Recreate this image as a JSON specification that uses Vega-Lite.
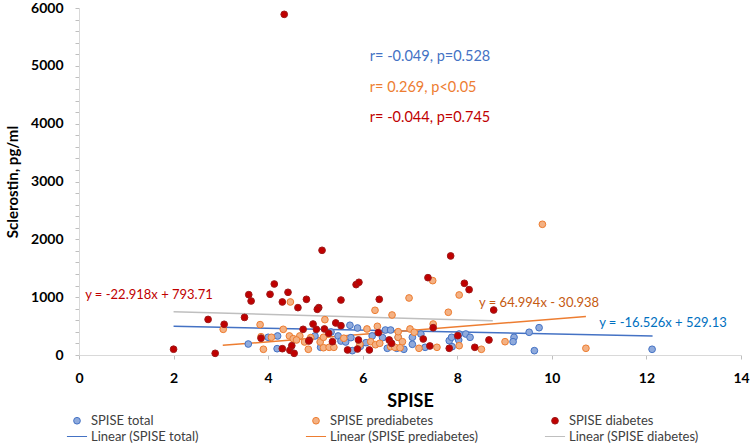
{
  "$schema": "https://vega.github.io/schema/vega-lite/v6.json",
  "width": 662,
  "height": 347,
  "autosize": {"type": "none"},
  "padding": {"left": 79, "top": 8, "right": 9, "bottom": 89},
  "background": "white",
  "config": {
    "font": "Lato",
    "view": {"stroke": null},
    "axis": {"grid": false, "domainColor": "#d9d9d9", "tickColor": "#bfbfbf", "tickSize": 4, "labelFont": "Lato", "labelFontWeight": "bold", "labelColor": "#000000", "labelFlush": false, "labelOverlap": false, "titleFont": "Lato", "titleFontWeight": "bold", "titleColor": "#000000"}
  },
  "layer": [
    {
      "data": {"values": [
        {"spise": 2.0, "sclerostin": 496.08, "series": "Linear (SPISE total)"},
        {"spise": 12.13, "sclerostin": 328.67, "series": "Linear (SPISE total)"},
        {"spise": 3.04, "sclerostin": 166.64, "series": "Linear (SPISE prediabetes)"},
        {"spise": 10.72, "sclerostin": 665.8, "series": "Linear (SPISE prediabetes)"},
        {"spise": 2.0, "sclerostin": 747.87, "series": "Linear (SPISE diabetes)"},
        {"spise": 8.75, "sclerostin": 593.18, "series": "Linear (SPISE diabetes)"}
      ]},
      "mark": {"type": "line", "strokeWidth": 1.5},
      "encoding": {
        "x": {"field": "spise", "type": "quantitative", "scale": {"domain": [0, 14], "nice": false, "zero": false},
          "axis": {"values": [0,2,4,6,8,10,12,14], "tickCount": 200, "labelFontSize": 14,
            "format": "d", "labelOverlap": false, "labelBound": false, "labelPadding": 12, "title": "SPISE", "titleFontSize": 18, "titlePadding": 7}},
        "y": {"field": "sclerostin", "type": "quantitative", "scale": {"domain": [0, 6000], "nice": false},
          "axis": {"values": [0,200,400,600,800,1000,1200,1400,1600,1800,2000,2200,2400,2600,2800,3000,3200,3400,3600,3800,4000,4200,4400,4600,4800,5000,5200,5400,5600,5800,6000],
            "tickCount": 200,
            "labelExpr": "datum.value % 1000 === 0 ? datum.label : ''",
            "labelFontSize": {"condition": {"test": "datum.value % 1000 !== 0", "value": 0}, "value": 14},
            "format": "d", "labelOverlap": false, "labelBound": false, "labelPadding": 12, "title": "Sclerostin, pg/ml", "titleFontSize": 15, "titlePadding": 10}},
        "stroke": {"field": "series", "type": "nominal", "title": null,
          "scale": {"domain": ["SPISE total", "SPISE prediabetes", "SPISE diabetes", "Linear (SPISE total)", "Linear (SPISE prediabetes)", "Linear (SPISE diabetes)"],
            "range": ["#4472c4", "#ed7d31", "#9e1b1b", "#4472c4", "#ed7d31", "#bfbfbf"]}}
      }
    },
    {
      "data": {"values": [
        {"spise": 3.58, "sclerostin": 190, "series": "SPISE total"},
        {"spise": 4.0, "sclerostin": 306, "series": "SPISE total"},
        {"spise": 4.2, "sclerostin": 329, "series": "SPISE total"},
        {"spise": 4.19, "sclerostin": 109, "series": "SPISE total"},
        {"spise": 5.73, "sclerostin": 514, "series": "SPISE total"},
        {"spise": 5.89, "sclerostin": 467, "series": "SPISE total"},
        {"spise": 6.48, "sclerostin": 432, "series": "SPISE total"},
        {"spise": 6.59, "sclerostin": 432, "series": "SPISE total"},
        {"spise": 5.33, "sclerostin": 398, "series": "SPISE total"},
        {"spise": 5.48, "sclerostin": 329, "series": "SPISE total"},
        {"spise": 5.11, "sclerostin": 133, "series": "SPISE total"},
        {"spise": 5.54, "sclerostin": 242, "series": "SPISE total"},
        {"spise": 5.64, "sclerostin": 225, "series": "SPISE total"},
        {"spise": 5.78, "sclerostin": 75, "series": "SPISE total"},
        {"spise": 6.07, "sclerostin": 213, "series": "SPISE total"},
        {"spise": 6.42, "sclerostin": 300, "series": "SPISE total"},
        {"spise": 6.52, "sclerostin": 116, "series": "SPISE total"},
        {"spise": 6.75, "sclerostin": 306, "series": "SPISE total"},
        {"spise": 6.72, "sclerostin": 116, "series": "SPISE total"},
        {"spise": 7.23, "sclerostin": 363, "series": "SPISE total"},
        {"spise": 7.05, "sclerostin": 306, "series": "SPISE total"},
        {"spise": 7.05, "sclerostin": 185, "series": "SPISE total"},
        {"spise": 7.32, "sclerostin": 133, "series": "SPISE total"},
        {"spise": 7.83, "sclerostin": 248, "series": "SPISE total"},
        {"spise": 7.88, "sclerostin": 306, "series": "SPISE total"},
        {"spise": 8.04, "sclerostin": 363, "series": "SPISE total"},
        {"spise": 8.03, "sclerostin": 260, "series": "SPISE total"},
        {"spise": 7.89, "sclerostin": 144, "series": "SPISE total"},
        {"spise": 8.18, "sclerostin": 363, "series": "SPISE total"},
        {"spise": 8.27, "sclerostin": 306, "series": "SPISE total"},
        {"spise": 9.2, "sclerostin": 306, "series": "SPISE total"},
        {"spise": 9.18, "sclerostin": 230, "series": "SPISE total"},
        {"spise": 9.52, "sclerostin": 393, "series": "SPISE total"},
        {"spise": 9.73, "sclerostin": 472, "series": "SPISE total"},
        {"spise": 9.63, "sclerostin": 75, "series": "SPISE total"},
        {"spise": 12.12, "sclerostin": 99, "series": "SPISE total"},
        {"spise": 6.87, "sclerostin": 99, "series": "SPISE total"},
        {"spise": 4.99, "sclerostin": 329, "series": "SPISE total"},
        {"spise": 5.75, "sclerostin": 300, "series": "SPISE total"},
        {"spise": 6.2, "sclerostin": 330, "series": "SPISE total"},
        {"spise": 5.95, "sclerostin": 150, "series": "SPISE total"},
        {"spise": 3.05, "sclerostin": 444, "series": "SPISE prediabetes"},
        {"spise": 3.83, "sclerostin": 525, "series": "SPISE prediabetes"},
        {"spise": 3.9, "sclerostin": 99, "series": "SPISE prediabetes"},
        {"spise": 3.85, "sclerostin": 316, "series": "SPISE prediabetes"},
        {"spise": 4.47, "sclerostin": 917, "series": "SPISE prediabetes"},
        {"spise": 6.26, "sclerostin": 773, "series": "SPISE prediabetes"},
        {"spise": 6.62, "sclerostin": 692, "series": "SPISE prediabetes"},
        {"spise": 4.32, "sclerostin": 444, "series": "SPISE prediabetes"},
        {"spise": 5.2, "sclerostin": 611, "series": "SPISE prediabetes"},
        {"spise": 6.09, "sclerostin": 450, "series": "SPISE prediabetes"},
        {"spise": 6.31, "sclerostin": 496, "series": "SPISE prediabetes"},
        {"spise": 4.45, "sclerostin": 329, "series": "SPISE prediabetes"},
        {"spise": 4.53, "sclerostin": 282, "series": "SPISE prediabetes"},
        {"spise": 4.67, "sclerostin": 329, "series": "SPISE prediabetes"},
        {"spise": 4.6, "sclerostin": 260, "series": "SPISE prediabetes"},
        {"spise": 4.77, "sclerostin": 225, "series": "SPISE prediabetes"},
        {"spise": 4.07, "sclerostin": 306, "series": "SPISE prediabetes"},
        {"spise": 4.85, "sclerostin": 99, "series": "SPISE prediabetes"},
        {"spise": 5.17, "sclerostin": 126, "series": "SPISE prediabetes"},
        {"spise": 5.29, "sclerostin": 133, "series": "SPISE prediabetes"},
        {"spise": 5.1, "sclerostin": 225, "series": "SPISE prediabetes"},
        {"spise": 5.39, "sclerostin": 133, "series": "SPISE prediabetes"},
        {"spise": 5.94, "sclerostin": 185, "series": "SPISE prediabetes"},
        {"spise": 6.17, "sclerostin": 230, "series": "SPISE prediabetes"},
        {"spise": 6.27, "sclerostin": 178, "series": "SPISE prediabetes"},
        {"spise": 6.36, "sclerostin": 202, "series": "SPISE prediabetes"},
        {"spise": 6.59, "sclerostin": 144, "series": "SPISE prediabetes"},
        {"spise": 7.48, "sclerostin": 1286, "series": "SPISE prediabetes"},
        {"spise": 8.04, "sclerostin": 1038, "series": "SPISE prediabetes"},
        {"spise": 6.98, "sclerostin": 986, "series": "SPISE prediabetes"},
        {"spise": 7.81, "sclerostin": 739, "series": "SPISE prediabetes"},
        {"spise": 7.49, "sclerostin": 536, "series": "SPISE prediabetes"},
        {"spise": 7.0, "sclerostin": 450, "series": "SPISE prediabetes"},
        {"spise": 7.09, "sclerostin": 393, "series": "SPISE prediabetes"},
        {"spise": 7.19, "sclerostin": 116, "series": "SPISE prediabetes"},
        {"spise": 7.57, "sclerostin": 133, "series": "SPISE prediabetes"},
        {"spise": 8.04, "sclerostin": 161, "series": "SPISE prediabetes"},
        {"spise": 8.51, "sclerostin": 99, "series": "SPISE prediabetes"},
        {"spise": 9.01, "sclerostin": 230, "series": "SPISE prediabetes"},
        {"spise": 6.75, "sclerostin": 306, "series": "SPISE prediabetes"},
        {"spise": 6.84, "sclerostin": 230, "series": "SPISE prediabetes"},
        {"spise": 6.68, "sclerostin": 133, "series": "SPISE prediabetes"},
        {"spise": 6.79, "sclerostin": 126, "series": "SPISE prediabetes"},
        {"spise": 10.72, "sclerostin": 116, "series": "SPISE prediabetes"},
        {"spise": 9.8, "sclerostin": 2260, "series": "SPISE prediabetes"},
        {"spise": 6.75, "sclerostin": 403, "series": "SPISE prediabetes"},
        {"spise": 5.17, "sclerostin": 306, "series": "SPISE prediabetes"},
        {"spise": 5.6, "sclerostin": 290, "series": "SPISE prediabetes"},
        {"spise": 4.9, "sclerostin": 300, "series": "SPISE prediabetes"},
        {"spise": 2.0, "sclerostin": 100, "series": "SPISE diabetes"},
        {"spise": 2.88, "sclerostin": 29, "series": "SPISE diabetes"},
        {"spise": 2.73, "sclerostin": 615, "series": "SPISE diabetes"},
        {"spise": 3.07, "sclerostin": 531, "series": "SPISE diabetes"},
        {"spise": 3.5, "sclerostin": 650, "series": "SPISE diabetes"},
        {"spise": 3.59, "sclerostin": 1043, "series": "SPISE diabetes"},
        {"spise": 3.64, "sclerostin": 934, "series": "SPISE diabetes"},
        {"spise": 4.04, "sclerostin": 1050, "series": "SPISE diabetes"},
        {"spise": 4.13, "sclerostin": 1228, "series": "SPISE diabetes"},
        {"spise": 3.85, "sclerostin": 290, "series": "SPISE diabetes"},
        {"spise": 4.3, "sclerostin": 917, "series": "SPISE diabetes"},
        {"spise": 4.42, "sclerostin": 1084, "series": "SPISE diabetes"},
        {"spise": 4.81, "sclerostin": 963, "series": "SPISE diabetes"},
        {"spise": 4.63, "sclerostin": 819, "series": "SPISE diabetes"},
        {"spise": 5.07, "sclerostin": 819, "series": "SPISE diabetes"},
        {"spise": 5.04, "sclerostin": 790, "series": "SPISE diabetes"},
        {"spise": 5.54, "sclerostin": 951, "series": "SPISE diabetes"},
        {"spise": 5.86, "sclerostin": 1217, "series": "SPISE diabetes"},
        {"spise": 5.92, "sclerostin": 1257, "series": "SPISE diabetes"},
        {"spise": 6.35, "sclerostin": 963, "series": "SPISE diabetes"},
        {"spise": 4.74, "sclerostin": 444, "series": "SPISE diabetes"},
        {"spise": 4.95, "sclerostin": 536, "series": "SPISE diabetes"},
        {"spise": 5.02, "sclerostin": 444, "series": "SPISE diabetes"},
        {"spise": 5.19, "sclerostin": 450, "series": "SPISE diabetes"},
        {"spise": 5.43, "sclerostin": 554, "series": "SPISE diabetes"},
        {"spise": 5.54, "sclerostin": 507, "series": "SPISE diabetes"},
        {"spise": 5.28, "sclerostin": 375, "series": "SPISE diabetes"},
        {"spise": 6.33, "sclerostin": 386, "series": "SPISE diabetes"},
        {"spise": 4.87, "sclerostin": 254, "series": "SPISE diabetes"},
        {"spise": 4.3, "sclerostin": 109, "series": "SPISE diabetes"},
        {"spise": 4.46, "sclerostin": 81, "series": "SPISE diabetes"},
        {"spise": 4.55, "sclerostin": 29, "series": "SPISE diabetes"},
        {"spise": 4.5, "sclerostin": 161, "series": "SPISE diabetes"},
        {"spise": 5.36, "sclerostin": 230, "series": "SPISE diabetes"},
        {"spise": 5.68, "sclerostin": 87, "series": "SPISE diabetes"},
        {"spise": 5.89, "sclerostin": 104, "series": "SPISE diabetes"},
        {"spise": 5.91, "sclerostin": 260, "series": "SPISE diabetes"},
        {"spise": 6.14, "sclerostin": 87, "series": "SPISE diabetes"},
        {"spise": 6.56, "sclerostin": 260, "series": "SPISE diabetes"},
        {"spise": 4.34, "sclerostin": 5890, "series": "SPISE diabetes"},
        {"spise": 5.14, "sclerostin": 1810, "series": "SPISE diabetes"},
        {"spise": 7.86, "sclerostin": 1713, "series": "SPISE diabetes"},
        {"spise": 7.38, "sclerostin": 1337, "series": "SPISE diabetes"},
        {"spise": 8.15, "sclerostin": 1240, "series": "SPISE diabetes"},
        {"spise": 8.25, "sclerostin": 1130, "series": "SPISE diabetes"},
        {"spise": 8.77, "sclerostin": 778, "series": "SPISE diabetes"},
        {"spise": 7.49, "sclerostin": 472, "series": "SPISE diabetes"},
        {"spise": 7.28, "sclerostin": 277, "series": "SPISE diabetes"},
        {"spise": 7.42, "sclerostin": 156, "series": "SPISE diabetes"},
        {"spise": 8.01, "sclerostin": 334, "series": "SPISE diabetes"},
        {"spise": 7.83, "sclerostin": 116, "series": "SPISE diabetes"},
        {"spise": 8.37, "sclerostin": 133, "series": "SPISE diabetes"},
        {"spise": 8.67, "sclerostin": 260, "series": "SPISE diabetes"},
        {"spise": 6.61, "sclerostin": 202, "series": "SPISE diabetes"},
        {"spise": 4.86, "sclerostin": 242, "series": "SPISE diabetes"}
      ]},
      "mark": {"type": "point", "filled": true, "opacity": 1, "size": 45},
      "encoding": {
        "x": {"field": "spise", "type": "quantitative"},
        "y": {"field": "sclerostin", "type": "quantitative"},
        "fill": {"field": "series", "type": "nominal", "title": null,
          "scale": {"domain": ["SPISE total", "SPISE prediabetes", "SPISE diabetes", "Linear (SPISE total)", "Linear (SPISE prediabetes)", "Linear (SPISE diabetes)"],
            "range": ["#8faadc", "#f4b183", "#c00000", "#4472c4", "#ed7d31", "#bfbfbf"]},
          "legend": {"orient": "none", "legendX": -8.5, "legendY": 406, "direction": "horizontal", "columns": 3, "gridAlign": "all", "columnPadding": 64, "rowPadding": 2, "symbolSize": 45, "labelOffset": 7.5, "labelFont": "Lato", "labelFontSize": 13, "labelColor": "#404040", "labelLimit": 300}},
        "shape": {"field": "series", "type": "nominal", "title": null,
          "scale": {"domain": ["SPISE total", "SPISE prediabetes", "SPISE diabetes", "Linear (SPISE total)", "Linear (SPISE prediabetes)", "Linear (SPISE diabetes)"],
            "range": ["circle", "circle", "circle", "M-3,0H3", "M-3,0H3", "M-3,0H3"]}},
        "strokeWidth": {"field": "series", "type": "nominal", "title": null,
          "scale": {"domain": ["SPISE total", "SPISE prediabetes", "SPISE diabetes", "Linear (SPISE total)", "Linear (SPISE prediabetes)", "Linear (SPISE diabetes)"],
            "range": [1, 1, 1, 1.5, 1.5, 1.5]}},
        "stroke": {"field": "series", "type": "nominal", "title": null}
      }
    },
    {
      "data": {"values": [
        {"spise": 6.15, "sclerostin": 5145, "label": "r= -0.049, p=0.528", "grp": "total"},
        {"spise": 6.15, "sclerostin": 4620, "label": "r= 0.269, p<0.05", "grp": "pre"},
        {"spise": 6.15, "sclerostin": 4095, "label": "r= -0.044, p=0.745", "grp": "dia"}
      ]},
      "mark": {"type": "text", "align": "left", "baseline": "middle", "fontSize": 14.5, "font": "Lato"},
      "encoding": {
        "x": {"field": "spise", "type": "quantitative"},
        "y": {"field": "sclerostin", "type": "quantitative"},
        "text": {"field": "label"},
        "color": {"field": "grp", "type": "nominal", "legend": null,
          "scale": {"domain": ["total", "pre", "dia", "eqdia", "eqpre", "eqtotal"], "range": ["#4472c4", "#ed7d31", "#c00000", "#c00000", "#c55a11", "#0070c0"]}}
      }
    },
    {
      "data": {"values": [
        {"spise": 0.13, "sclerostin": 1038, "label": "y = -22.918x + 793.71", "grp": "eqdia"},
        {"spise": 8.46, "sclerostin": 894, "label": "y = 64.994x - 30.938", "grp": "eqpre"},
        {"spise": 11.0, "sclerostin": 548, "label": "y = -16.526x + 529.13", "grp": "eqtotal"}
      ]},
      "mark": {"type": "text", "align": "left", "baseline": "middle", "fontSize": 13, "font": "Lato"},
      "encoding": {
        "x": {"field": "spise", "type": "quantitative"},
        "y": {"field": "sclerostin", "type": "quantitative"},
        "text": {"field": "label"},
        "color": {"field": "grp", "type": "nominal", "legend": null}
      }
    }
  ]
}
